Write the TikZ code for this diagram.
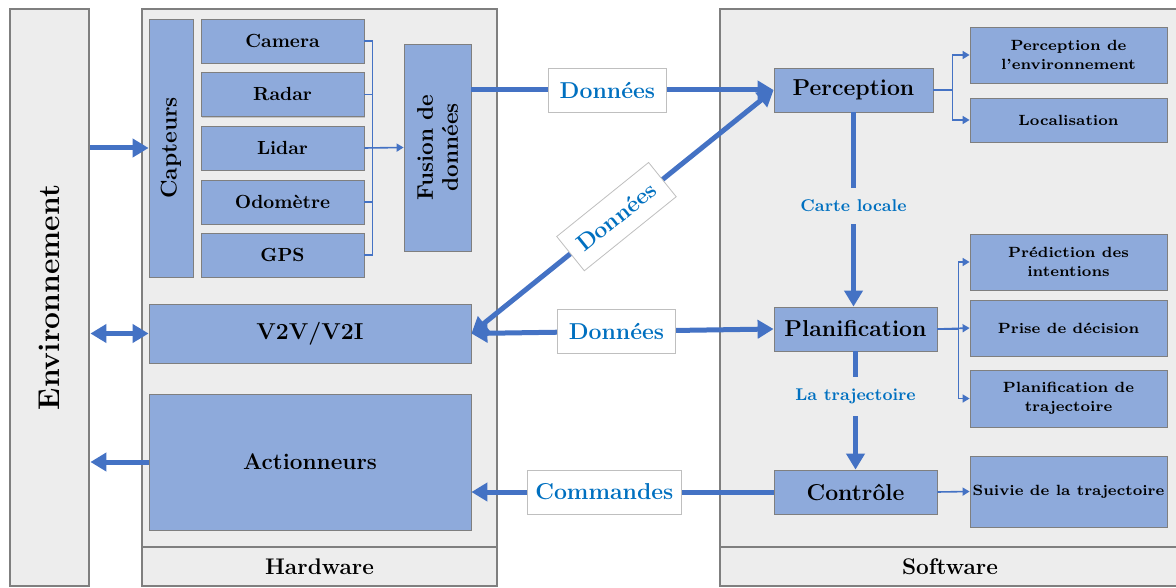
\documentclass[tikz,border=0pt]{standalone}
\usetikzlibrary{arrows.meta,shadows}
\definecolor{boxblue}{HTML}{8EAADB}
\definecolor{arrowblue}{HTML}{4472C4}
\definecolor{textblue}{HTML}{0070C0}
\definecolor{panelgray}{HTML}{EDEDED}
\definecolor{bordergray}{HTML}{7F7F7F}
\begin{document}
\begin{tikzpicture}[x=0.5pt, y=-0.5pt, font=\bfseries]
	\tikzstyle{panel} = [draw=bordergray, fill=panelgray, line width=1.4pt, inner sep=0pt]
	\tikzstyle{block} = [draw=bordergray, fill=boxblue, line width=0.4pt, inner sep=2pt, align=center, drop shadow={shadow xshift=0.7pt, shadow yshift=-0.7pt, opacity=0.35}]
	\tikzstyle{sensor} = [block, minimum width=81.5pt, minimum height=22pt, font=\fontsize{9.5}{11}\selectfont\bfseries]
	\tikzstyle{module} = [block, minimum height=22pt, font=\fontsize{11.5}{13}\selectfont\bfseries]
	\tikzstyle{task} = [block, inner xsep=0.5pt, minimum width=98.5pt, minimum height=28pt, font=\fontsize{7.4}{9.5}\selectfont\bfseries]
	\tikzstyle{bigarrow} = [draw=arrowblue, line width=2.5pt, -{Triangle[length=8pt,width=9pt]}]
	\tikzstyle{bigboth} = [draw=arrowblue, line width=2.5pt, {Triangle[length=8pt,width=9pt]}-{Triangle[length=8pt,width=9pt]}]
	\tikzstyle{thinline} = [draw=arrowblue, line width=0.8pt]
	\tikzstyle{thinarrow} = [thinline, -{Triangle[length=3.5pt,width=4pt]}]
	\tikzstyle{databox} = [draw=black!25, fill=white, text=textblue, line width=0.4pt, minimum width=59pt, minimum height=22pt, inner sep=2pt, font=\fontsize{11.5}{13}\selectfont\bfseries]
	\tikzstyle{flowlabel} = [fill=panelgray, text=textblue, inner xsep=1pt, inner ysep=6pt, font=\fontsize{8.5}{10}\selectfont\bfseries]
	\useasboundingbox (0,0) rectangle (1176,588);

	% panels
	\node[panel, minimum width=39.5pt, minimum height=288.5pt, label={[rotate=90, font=\fontsize{15}{17}\selectfont\bfseries]center:Environnement}] (env) at (49.5,297.5) {};
	\node[panel, minimum width=177.5pt, minimum height=269pt] (hw) at (319.5,278) {};
	\node[panel, minimum width=177.5pt, minimum height=19.5pt, font=\fontsize{11.3}{13}\selectfont\bfseries] (hwtitle) at (319.5,566.5) {Hardware};
	\node[panel, minimum width=230pt, minimum height=269pt] (sw) at (950,278) {};
	\node[panel, minimum width=230pt, minimum height=19.5pt, font=\fontsize{11.3}{13}\selectfont\bfseries] (swtitle) at (950,566.5) {Software};

	% hardware
	\node[block, minimum width=22pt, minimum height=129pt, label={[rotate=90, font=\fontsize{11.4}{13}\selectfont\bfseries]center:Capteurs}] (capt) at (171,148) {};
	\node[sensor] (cam) at (282.5,41) {Camera};
	\node[sensor] (radar) at (282.5,94.5) {Radar};
	\node[sensor] (lidar) at (282.5,148) {Lidar};
	\node[sensor] (odo) at (282.5,202) {Odomètre};
	\node[sensor] (gps) at (282.5,255) {GPS};
	\node[block, minimum width=33.5pt, minimum height=103.5pt, label={[rotate=90, align=center, font=\fontsize{11.3}{12.5}\selectfont\bfseries]center:Fusion de\\données}] (fus) at (437.5,147.5) {};
	\node[module, minimum width=161pt, minimum height=29.5pt] (v2v) at (310,333.5) {V2V/V2I};
	\node[module, minimum width=161pt, minimum height=68pt, font=\fontsize{11.3}{13}\selectfont\bfseries] (act) at (310,462) {Actionneurs};

	% software
	\node[module, minimum width=79.5pt] (perc) at (853.5,90) {Perception};
	\node[module, minimum width=81.5pt] (plan) at (855.5,329) {Planification};
	\node[module, minimum width=81.5pt] (ctrl) at (855.5,492) {Contrôle};
	\node[task] (penv) at (1068.5,55) {Perception de\\l'environnement};
	\node[task, minimum height=22pt] (loc) at (1068.5,120) {Localisation};
	\node[task] (pred) at (1068.5,262) {Prédiction des\\intentions};
	\node[task] (dec) at (1068.5,328) {Prise de décision};
	\node[task, minimum height=28.5pt] (ptraj) at (1068.5,398.5) {Planification de\\trajectoire};
	\node[task, minimum height=35.5pt] (suiv) at (1068.5,491.5) {Suivie de la trajectoire};

	% sensors to fusion
	\draw[thinline] (cam.east) -- ++(8,0) |- (gps.east);
	\draw[thinline] (radar.east) -- ++(8,0);
	\draw[thinline] (odo.east) -- ++(8,0);
	\draw[thinarrow] (lidar.east) -- (fus.west);

	% environment links
	\path (env.east |- capt.west) edge[bigarrow] (capt.west);
	\path (env.east |- v2v.west) edge[bigboth] (v2v.west);
	\path (act.west) edge[bigarrow] (env.east |- act.west);

	% data flow
	\path (fus.east |- perc.west) edge[bigarrow] node[databox, pos=0.45] {Données} (perc.west);
	\path (v2v.east) edge[bigboth] node[databox, sloped, pos=0.48] {Données} (perc.west);
	\path (v2v.east) edge[bigboth] node[databox, pos=0.48] {Données} (plan.west);
	\path (ctrl.west) edge[bigarrow] node[databox, minimum width=77pt, pos=0.56] {Commandes} (act.east |- ctrl.west);
	\path (perc.south) edge[bigarrow] node[flowlabel, pos=0.48] {Carte locale} (perc.south |- plan.north);
	\path (plan.south) edge[bigarrow] node[flowlabel, pos=0.38] {La trajectoire} (ctrl.north);

	% sub tasks
	\draw[thinarrow] (perc.east) -- ++(19,0) |- (penv.west);
	\draw[thinarrow] (perc.east) -- ++(19,0) |- (loc.west);
	\draw[thinarrow] (plan.east) -- ++(21,0) |- (pred.west);
	\draw[thinarrow] (plan.east) -- (dec.west);
	\draw[thinarrow] (plan.east) -- ++(21,0) |- (ptraj.west);
	\draw[thinarrow] (ctrl.east) -- (suiv.west);
\end{tikzpicture}
\end{document}
